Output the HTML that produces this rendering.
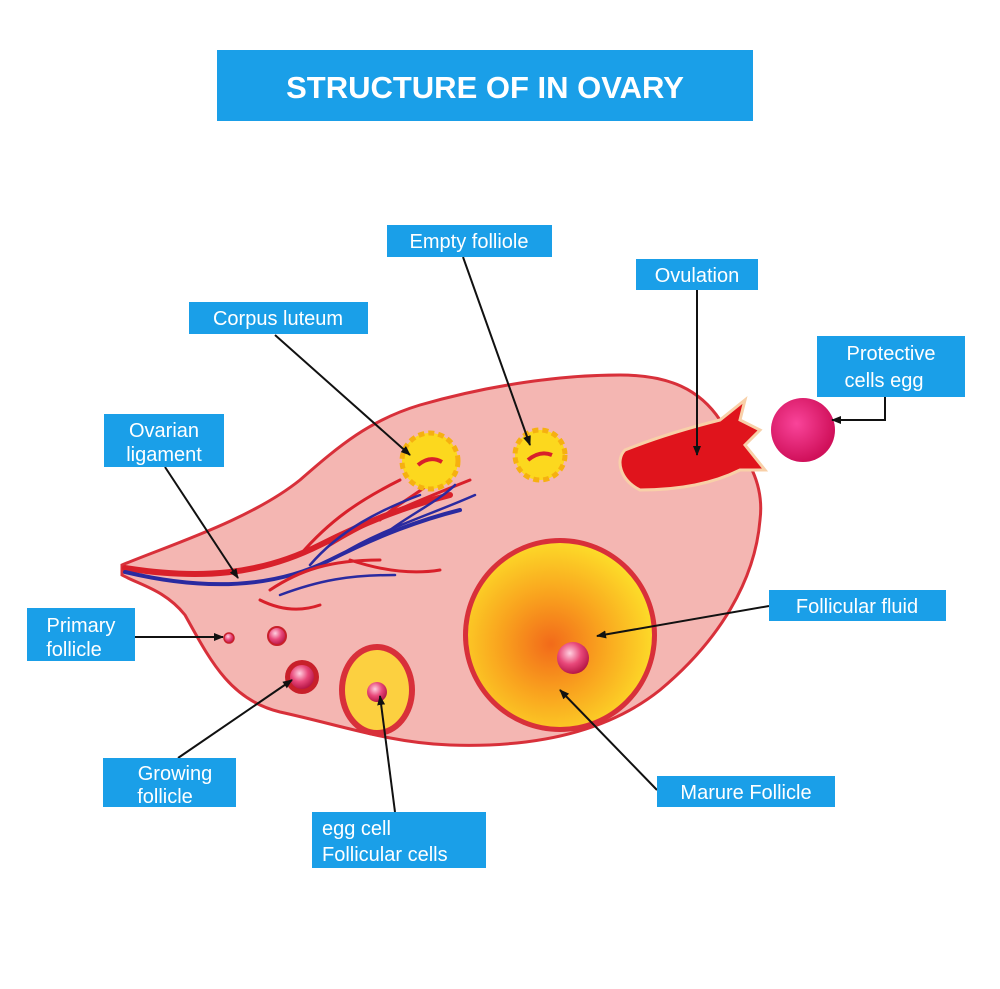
<!DOCTYPE html>
<html><head><meta charset="utf-8"><style>
html,body{margin:0;padding:0;background:#fff}
svg{display:block}
.lb{fill:#1a9fe8}
.t{font-family:"Liberation Sans",sans-serif;font-size:20px;fill:#fff}
</style></head><body>
<svg width="1000" height="989" viewBox="0 0 1000 989" xmlns="http://www.w3.org/2000/svg">
<defs>
<radialGradient id="mat" cx="0.45" cy="0.55" r="0.6"><stop offset="0" stop-color="#f26a1a"/><stop offset="0.45" stop-color="#f9a21e"/><stop offset="1" stop-color="#fde22a"/></radialGradient>
<radialGradient id="egg" cx="0.4" cy="0.35" r="0.7"><stop offset="0" stop-color="#ffd0e0"/><stop offset="0.5" stop-color="#e8487a"/><stop offset="1" stop-color="#b01040"/></radialGradient>
<radialGradient id="prot" cx="0.4" cy="0.4" r="0.6"><stop offset="0" stop-color="#f9449a"/><stop offset="1" stop-color="#d0105a"/></radialGradient>
<marker id="ar" markerWidth="10" markerHeight="8" refX="9" refY="4" orient="auto" markerUnits="userSpaceOnUse"><path d="M0,0 L10,4 L0,8z" fill="#111"/></marker>
</defs>
<rect x="217" y="50" width="536" height="71" class="lb"/>
<text x="485" y="98" text-anchor="middle" font-family="Liberation Sans,sans-serif" font-weight="bold" font-size="31" fill="#fff">STRUCTURE OF IN OVARY</text>

<!-- ovary -->
<path d="M122,565 C170,545 250,520 300,480 C340,445 370,420 420,405 C490,385 560,375 620,375 C670,375 700,390 720,420 C745,455 765,480 760,520 C755,580 720,640 660,690 C610,730 540,748 450,745 C390,743 340,725 280,712 C230,700 210,660 185,615 C165,590 140,585 122,575 Z" fill="#f4b6b2" stroke="#d8303a" stroke-width="3"/>
<!-- vessels -->
<g fill="none" stroke-linecap="round">
<path d="M125,568 C200,580 260,575 320,545 C370,520 410,505 450,495" stroke="#d8202a" stroke-width="6"/>
<path d="M125,572 C200,590 270,590 330,560 C380,535 420,520 460,510" stroke="#2a2aa0" stroke-width="4"/>
<path d="M300,555 C330,520 360,500 400,480 M330,545 C370,520 420,500 470,480 M270,590 C300,570 330,560 380,560 M260,600 C280,610 300,612 320,605 M380,520 C400,500 430,490 440,470 M350,560 C380,570 410,575 440,570" stroke="#d8202a" stroke-width="3"/>
<path d="M310,565 C340,530 380,510 420,495 M340,555 C380,530 430,515 475,495 M280,595 C320,580 350,575 395,575 M390,530 C410,515 440,500 455,485" stroke="#2a2aa0" stroke-width="2.5"/>
</g>
<!-- corpus luteum -->
<circle cx="430" cy="461" r="28" fill="#fcd81e" stroke="#f6b010" stroke-width="5" stroke-dasharray="6 4"/>
<path d="M418,465 Q430,455 442,462" stroke="#d8202a" stroke-width="4" fill="none"/>
<circle cx="540" cy="455" r="25" fill="#fcd81e" stroke="#f6b010" stroke-width="5" stroke-dasharray="6 4"/>
<path d="M528,460 Q540,450 552,455" stroke="#d8202a" stroke-width="4" fill="none"/>
<!-- ovulation -->
<path d="M625,450 C650,440 680,430 720,420 L745,400 L740,420 L760,430 L745,445 L765,470 L740,470 C720,480 690,490 640,490 C620,480 615,460 625,450Z" fill="#e0141c" stroke="#f8d0a8" stroke-width="3"/>
<circle cx="803" cy="430" r="32" fill="url(#prot)"/>
<!-- mature follicle -->
<circle cx="560" cy="635" r="97" fill="#d8303a"/>
<circle cx="560" cy="635" r="92" fill="url(#mat)"/>
<circle cx="573" cy="658" r="16" fill="url(#egg)"/>
<!-- growing follicles -->
<ellipse cx="377" cy="690" rx="38" ry="46" fill="#d8303a"/>
<ellipse cx="377" cy="690" rx="32" ry="40" fill="#fcd040"/>
<circle cx="377" cy="692" r="10" fill="url(#egg)"/>
<circle cx="302" cy="677" r="17" fill="#c8202a"/>
<circle cx="302" cy="677" r="12" fill="url(#egg)"/>
<circle cx="277" cy="636" r="9" fill="url(#egg)" stroke="#c8202a" stroke-width="2"/>
<circle cx="229" cy="638" r="5" fill="url(#egg)" stroke="#c8202a" stroke-width="1.5"/>

<!-- connectors -->
<g stroke="#111" stroke-width="2" fill="none" marker-end="url(#ar)">
<line x1="275" y1="335" x2="410" y2="455"/>
<line x1="463" y1="257" x2="530" y2="445"/>
<line x1="697" y1="290" x2="697" y2="455"/>
<polyline points="885,397 885,420 832,420"/>
<line x1="165" y1="467" x2="238" y2="578"/>
<line x1="135" y1="637" x2="223" y2="637"/>
<line x1="178" y1="758" x2="292" y2="680"/>
<line x1="395" y1="812" x2="380" y2="696"/>
<line x1="769" y1="606" x2="597" y2="636"/>
<line x1="657" y1="790" x2="560" y2="690"/>
</g>

<!-- labels -->
<rect x="387" y="225" width="165" height="32" class="lb"/><text x="469" y="248" class="t" text-anchor="middle">Empty folliole</text>
<rect x="636" y="259" width="122" height="31" class="lb"/><text x="697" y="282" class="t" text-anchor="middle">Ovulation</text>
<rect x="189" y="302" width="179" height="32" class="lb"/><text x="278" y="325" class="t" text-anchor="middle">Corpus luteum</text>
<rect x="817" y="336" width="148" height="61" class="lb"/><text x="891" y="360" class="t" text-anchor="middle">Protective</text><text x="884" y="387" class="t" text-anchor="middle">cells egg</text>
<rect x="104" y="414" width="120" height="53" class="lb"/><text x="164" y="437" class="t" text-anchor="middle">Ovarian</text><text x="164" y="461" class="t" text-anchor="middle">ligament</text>
<rect x="769" y="590" width="177" height="31" class="lb"/><text x="857" y="613" class="t" text-anchor="middle">Follicular fluid</text>
<rect x="27" y="608" width="108" height="53" class="lb"/><text x="81" y="632" class="t" text-anchor="middle">Primary</text><text x="74" y="656" class="t" text-anchor="middle">follicle</text>
<rect x="103" y="758" width="133" height="49" class="lb"/><text x="175" y="780" class="t" text-anchor="middle">Growing</text><text x="165" y="803" class="t" text-anchor="middle">follicle</text>
<rect x="657" y="776" width="178" height="31" class="lb"/><text x="746" y="799" class="t" text-anchor="middle">Marure Follicle</text>
<rect x="312" y="812" width="174" height="56" class="lb"/><text x="322" y="835" class="t">egg cell</text><text x="322" y="861" class="t">Follicular cells</text>
</svg>
</body></html>
